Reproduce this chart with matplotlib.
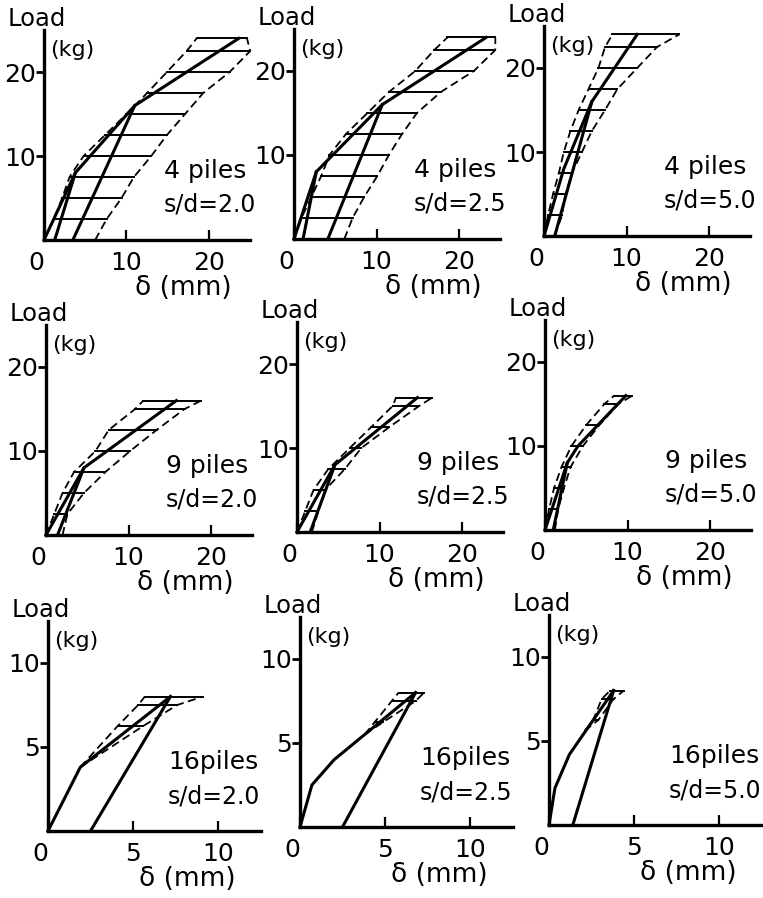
import numpy as np
import matplotlib.pyplot as plt

plt.rcParams['font.family'] = ['DejaVu Sans']

# load steps at which the scatter band is hatched (kg)
levels_24 = [2.5, 5, 7.5, 10, 12.5, 15, 17.5, 20, 22.5, 24]
levels_16 = [2.5, 5, 7.5, 10, 12.5, 15, 16]
levels_8 = [6.25, 7.5, 8]

# 4 piles, s/d = 2.0
a1_load = [0, 8, 16, 24]
a1_defl = [0, 3.8, 11.0, 23.6]
a1_unl_from = [8, 16]
a1_unl_res = [1.3, 3.5]
a1_lo = [1.2, 2.2, 3.1, 4.8, 7.4, 10.0, 12.5, 14.9, 17.3, 18.5]
a1_hi = [7.6, 9.4, 10.9, 13.0, 14.9, 17.1, 19.3, 22.5, 25.0, 24.6]
a1_start = [(0, 0), (6.2, 0)]

# 4 piles, s/d = 2.5
a2_load = [0, 8, 16, 24]
a2_defl = [0, 2.7, 10.7, 23.3]
a2_unl_from = [8, 16]
a2_unl_res = [1.1, 4.1]
a2_lo = [0.9, 2.1, 3.3, 4.3, 6.3, 8.9, 11.5, 14.7, 17.0, 18.6]
a2_hi = [7.1, 8.5, 10.1, 11.5, 13.1, 14.9, 17.8, 21.8, 24.4, 24.4]
a2_start = [(0, 0), (6.1, 0)]

# 4 piles, s/d = 5.0
a3_load = [0, 8, 16, 24]
a3_defl = [0, 2.4, 5.8, 11.3]
a3_unl_from = [16]
a3_unl_res = [1.3]
a3_lo = [0.5, 1.1, 1.8, 2.4, 3.2, 4.2, 5.4, 6.6, 7.4, 8.3]
a3_hi = [2.2, 2.6, 3.4, 4.6, 5.8, 7.4, 8.9, 11.3, 13.7, 16.4]
a3_start = [(0, 0), (1.3, 0)]

# 9 piles, s/d = 2.0
b1_load = [0, 8, 16]
b1_defl = [0, 4.6, 15.8]
b1_unl_from = [8]
b1_unl_res = [1.4]
b1_lo = [1.0, 2.0, 3.4, 6.0, 7.6, 10.8, 11.8]
b1_hi = [2.6, 4.6, 7.2, 10.2, 13.4, 16.8, 18.8]
b1_start = [(0, 0), (2.0, 0)]

# 9 piles, s/d = 2.5
b2_load = [0, 8, 16]
b2_defl = [0, 4.6, 14.6]
b2_unl_from = [8]
b2_unl_res = [1.6]
b2_lo = [1.0, 2.0, 3.8, 6.4, 9.0, 11.6, 12.0]
b2_hi = [2.6, 3.4, 5.8, 7.8, 11.2, 14.8, 16.4]
b2_start = [(0, 0), (1.8, 0)]

# 9 piles, s/d = 5.0
b3_load = [0, 8, 10, 16]
b3_defl = [0, 2.7, 4.0, 9.8]
b3_unl_from = [8]
b3_unl_res = [1.0]
b3_lo = [0.5, 1.1, 2.0, 3.2, 5.0, 7.2, 8.4]
b3_hi = [1.6, 2.3, 3.1, 4.6, 6.6, 8.9, 10.6]
b3_start = [(0, 0), (1.2, 0)]

# 16 piles, s/d = 2.0
c1_load = [0, 3.8, 8]
c1_defl = [0, 1.9, 7.2]
c1_unl_from = [8]
c1_unl_res = [2.5]
c1_lo = [4.1, 5.3, 5.7]
c1_hi = [5.6, 7.6, 9.1]
c1_start = [(1.9, 3.8), (1.9, 3.8)]

# 16 piles, s/d = 2.5
c2_load = [0, 2.5, 4, 8]
c2_defl = [0, 0.7, 2.0, 6.8]
c2_unl_from = [8]
c2_unl_res = [2.5]
c2_lo = [4.4, 5.4, 5.8]
c2_hi = [4.9, 6.8, 7.3]
c2_start = [(3.8, 5.5), (3.8, 5.5)]

# 16 piles, s/d = 5.0
c3_load = [0, 2.2, 4.2, 8]
c3_defl = [0, 0.35, 1.2, 3.8]
c3_unl_from = [8]
c3_unl_res = [1.4]
c3_lo = [2.6, 3.1, 3.6]
c3_hi = [2.9, 3.8, 4.4]
c3_start = [(2.1, 5.6), (2.1, 5.6)]

pile_labels = ['4 piles', '9 piles', '16piles']
sd_labels = ['s/d=2.0', 's/d=2.5', 's/d=5.0']

panels = [
    (a1_load, a1_defl, a1_unl_from, a1_unl_res, levels_24, a1_lo, a1_hi, a1_start),
    (a2_load, a2_defl, a2_unl_from, a2_unl_res, levels_24, a2_lo, a2_hi, a2_start),
    (a3_load, a3_defl, a3_unl_from, a3_unl_res, levels_24, a3_lo, a3_hi, a3_start),
    (b1_load, b1_defl, b1_unl_from, b1_unl_res, levels_16, b1_lo, b1_hi, b1_start),
    (b2_load, b2_defl, b2_unl_from, b2_unl_res, levels_16, b2_lo, b2_hi, b2_start),
    (b3_load, b3_defl, b3_unl_from, b3_unl_res, levels_16, b3_lo, b3_hi, b3_start),
    (c1_load, c1_defl, c1_unl_from, c1_unl_res, levels_8, c1_lo, c1_hi, c1_start),
    (c2_load, c2_defl, c2_unl_from, c2_unl_res, levels_8, c2_lo, c2_hi, c2_start),
    (c3_load, c3_defl, c3_unl_from, c3_unl_res, levels_8, c3_lo, c3_hi, c3_start),
]

# panel origins in pixels (x from left, y from top) and pixels per unit
W, H = 763, 898
origins = [(44, 240), (294, 239), (544, 236),
           (46, 535), (297, 532), (545, 530),
           (48, 831), (300, 827), (549, 825)]
row_scale = [(8.25, 8.4, 25, 25), (8.25, 8.4, 25, 25), (17.0, 16.8, 12.5, 12.5)]
row_xticks = [[0, 10, 20], [0, 10, 20], [0, 5, 10]]
row_yticks = [[10, 20], [10, 20], [5, 10]]

fig = plt.figure(figsize=(W / 100, H / 100), dpi=100)

dash = dict(color='black', lw=1.3, dashes=(4.5, 2.5), clip_on=False)
solid = dict(color='black', lw=2.2, solid_joinstyle='miter', clip_on=False)

for i, (load, defl, unl_from, unl_res, lev, lo, hi, start) in enumerate(panels):
    row, col = divmod(i, 3)
    sx, sy, xmax, ymax = row_scale[row]
    x0, y0 = origins[i]
    ax = fig.add_axes([x0 / W, 1 - y0 / H, xmax * sx / W, ymax * sy / H])
    ax.set_xlim(0, xmax)
    ax.set_ylim(0, ymax)

    # hatched scatter band between the two dashed bounds
    for y, xl, xr in zip(lev, lo, hi):
        ax.plot([xl, xr], [y, y], color='black', lw=1.4, clip_on=False)
    ax.plot([start[0][0]] + lo, [start[0][1]] + lev, **dash)
    ax.plot([start[1][0]] + hi, [start[1][1]] + lev, **dash)

    # loading curve and unloading branches
    ax.plot(defl, load, **solid)
    for p, r in zip(unl_from, unl_res):
        ax.plot([np.interp(p, load, defl), r], [p, 0], **solid)

    for s in ['top', 'right']:
        ax.spines[s].set_visible(False)
    for s in ['left', 'bottom']:
        ax.spines[s].set_linewidth(2.4)

    ax.set_xticks(row_xticks[row])
    ax.set_yticks(row_yticks[row])
    ax.tick_params(axis='x', direction='in', length=7, width=1.6,
                   labelsize=18, pad=8)
    ax.tick_params(axis='y', direction='out', length=6, width=2,
                   labelsize=18, pad=0)
    ax.get_xticklabels()[0].set_ha('right')

    ax.annotate('Load', xy=(0, 0), xycoords='axes fraction', xytext=(-7, 221),
                textcoords='offset pixels', ha='center', va='center', fontsize=17.5)
    ax.annotate('(kg)', xy=(0, 0), xycoords='axes fraction', xytext=(28, 190),
                textcoords='offset pixels', ha='center', va='center', fontsize=16)
    ax.annotate('δ (mm)', xy=(0, 0), xycoords='axes fraction', xytext=(139, -48),
                textcoords='offset pixels', ha='center', va='center', fontsize=19)
    ax.annotate(pile_labels[row], xy=(0, 0), xycoords='axes fraction',
                xytext=(120, 69), textcoords='offset pixels',
                ha='left', va='center', fontsize=18)
    ax.annotate(sd_labels[col], xy=(0, 0), xycoords='axes fraction',
                xytext=(120, 35), textcoords='offset pixels',
                ha='left', va='center', fontsize=17)

fig.savefig('out.png', dpi=100)
